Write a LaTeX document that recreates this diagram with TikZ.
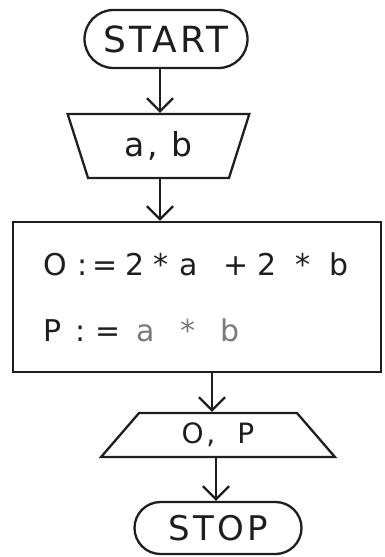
\documentclass[tikz,border=0pt]{standalone}
\usepackage{fontspec}
\newfontfamily\hand[LetterSpace=10]{DejaVu Sans}
\newfontfamily\handplain{DejaVu Sans}
\usetikzlibrary{shapes.geometric,shapes.misc,arrows.meta}
\definecolor{ink}{HTML}{1E1E1E}
\definecolor{pale}{HTML}{7A7A7A}
\newcommand\tok[2]{\leavevmode\rlap{\hspace*{#1}#2}}
\begin{document}
\begin{tikzpicture}[x=1pt,y=-1pt,
  line width=2.3pt,
  term/.style={draw=ink, rounded rectangle, inner sep=0pt, text=ink},
  iobox/.style={draw=ink, trapezium, trapezium stretches=true, inner sep=0pt, text=ink},
  procbox/.style={draw=ink, rectangle, inner sep=0pt, text=ink},
  arr/.style={draw=ink, -{Straight Barb[length=13pt,width=26pt]}}]
\useasboundingbox (0,0) rectangle (384,557);
\node[term, minimum width=163pt, minimum height=58pt,
  font=\hand\fontsize{36}{40}\selectfont] (start) at (166,39) {START};
\node[iobox, shape border rotate=180, minimum width=183pt, minimum height=64pt,
  trapezium angle=71, font=\hand\fontsize{33}{36}\selectfont] (inp) at (158.5,146) {a, b};
\node[procbox, minimum width=368pt, minimum height=150pt, text width=308pt, align=left,
  font=\handplain\fontsize{30}{66}\selectfont] (proc) at (197,297)
  {\tok{0pt}{O}\tok{35pt}{:}\tok{50pt}{=}\tok{83pt}{2}\tok{111pt}{*}\tok{137pt}{a}%
   \tok{180pt}{+}\tok{215pt}{2}\tok{253pt}{*}\tok{287pt}{b}\\%
   \tok{0pt}{P}\tok{33pt}{:}\tok{53pt}{=}\tok{93pt}{\color{pale}a}\tok{138pt}{\color{pale}*}\tok{177pt}{\color{pale}b}};
\node[iobox, minimum width=234pt, minimum height=44pt, trapezium angle=54,
  font=\hand\fontsize{28}{30}\selectfont] (out) at (218,435) {O,\hspace{22pt}P};
\node[term, minimum width=167pt, minimum height=52pt,
  font=\hand\fontsize{34}{38}\selectfont] (stop) at (218,528) {STOP};
\draw[arr] ([xshift=-6pt]start.south) -- ([xshift=-6pt]start.south |- inp.north);
\draw[arr] ([xshift=1.5pt]inp.south) -- ([xshift=1.5pt]inp.south |- proc.north);
\draw[arr] ([xshift=15pt]proc.south) -- ([xshift=15pt]proc.south |- out.north);
\draw[arr] ([xshift=-2pt]out.south) -- ([xshift=-2pt]out.south |- stop.north);
\end{tikzpicture}
\end{document}
